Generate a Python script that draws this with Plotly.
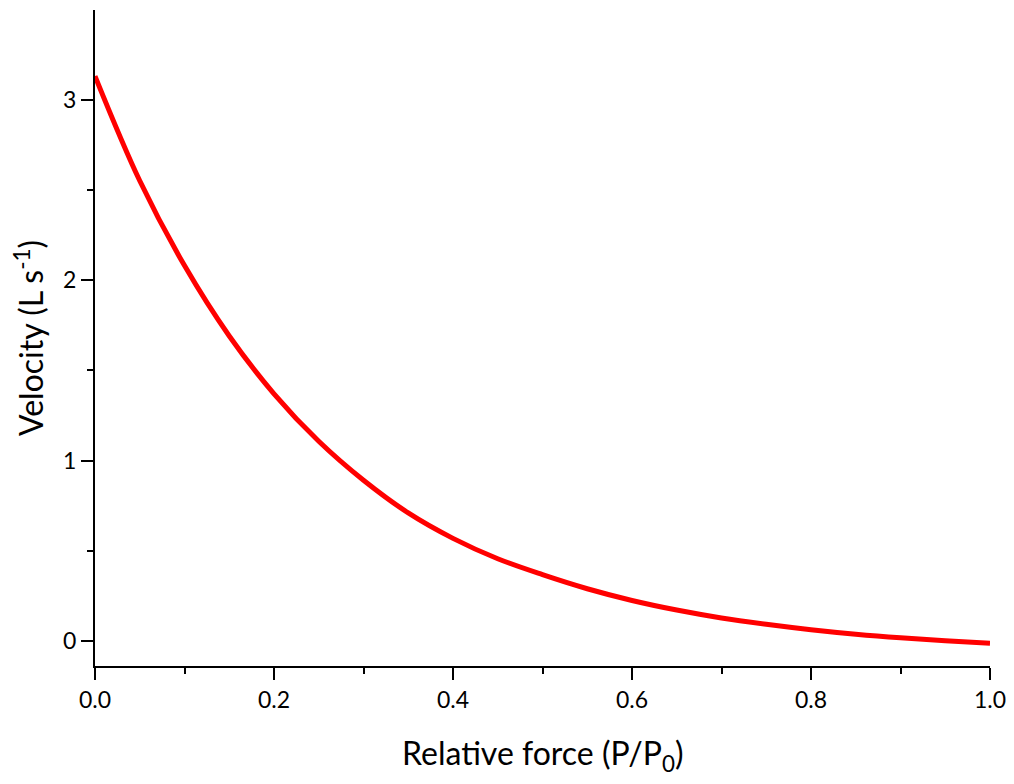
import plotly.graph_objects as go

# Relative force (P/P0) and velocity (L s^-1)
force = [0.00, 0.05, 0.10, 0.15, 0.20, 0.25, 0.30, 0.35, 0.40, 0.45, 0.50,
         0.55, 0.60, 0.65, 0.70, 0.75, 0.80, 0.85, 0.90, 0.95, 1.00]
velocity = [3.13, 2.55, 2.08, 1.69, 1.37, 1.107, 0.891, 0.71, 0.569, 0.456, 0.368,
            0.290, 0.225, 0.172, 0.128, 0.093, 0.063, 0.038, 0.018, 0.002, -0.012]

x_ticks = [0.0, 0.2, 0.4, 0.6, 0.8, 1.0]
x_tick_labels = ["0.0", "0.2", "0.4", "0.6", "0.8", "1.0"]
y_ticks = [0, 1, 2, 3]
y_tick_labels = ["0", "1", "2", "3"]

FONT = "Lato, 'Open Sans', sans-serif"

fig = go.Figure()
fig.add_trace(go.Scatter(
    x=force, y=velocity, mode="lines",
    line=dict(color="#ff0000", width=5, shape="spline", smoothing=1.0),
    showlegend=False, hoverinfo="skip",
))

# the page body adds an 8px margin, so the figure is sized/offset to compensate
fig.update_layout(
    width=998, height=768,
    margin=dict(l=87, r=16, t=2, b=110),
    paper_bgcolor="white", plot_bgcolor="white",
    font=dict(family=FONT, color="black", size=23),
)

fig.add_annotation(
    text="Relative force (P/P<sub>0</sub>)",
    xref="paper", yref="paper", x=0.5, y=-0.136,
    xanchor="center", yanchor="middle", showarrow=False,
    font=dict(size=32, family=FONT, color="black"),
)

fig.update_xaxes(
    range=[0, 1.0], showgrid=False, zeroline=False,
    showline=True, linecolor="black", linewidth=2,
    ticks="outside", ticklen=12, tickwidth=2, tickcolor="black",
    tickvals=x_ticks, ticktext=x_tick_labels,
    tickfont=dict(size=23, family=FONT),
    ticklabeloverflow="allow",
    minor=dict(ticks="outside", ticklen=6, tickwidth=2, tickcolor="black", dtick=0.1, showgrid=False),
    automargin=False,
)
fig.update_yaxes(
    range=[-0.138, 3.496], showgrid=False, zeroline=False,
    showline=True, linecolor="black", linewidth=2,
    ticks="outside", ticklen=12, tickwidth=2, tickcolor="black",
    tickvals=y_ticks, ticktext=y_tick_labels,
    tickfont=dict(size=23, family=FONT),
    ticklabeloverflow="allow",
    minor=dict(ticks="outside", ticklen=6, tickwidth=2, tickcolor="black", dtick=0.5, tick0=0, showgrid=False),
    title=dict(text="Velocity (L s<sup>-1</sup>)", font=dict(size=32, family=FONT), standoff=16),
    automargin=False,
)

fig.write_html("out.html")
